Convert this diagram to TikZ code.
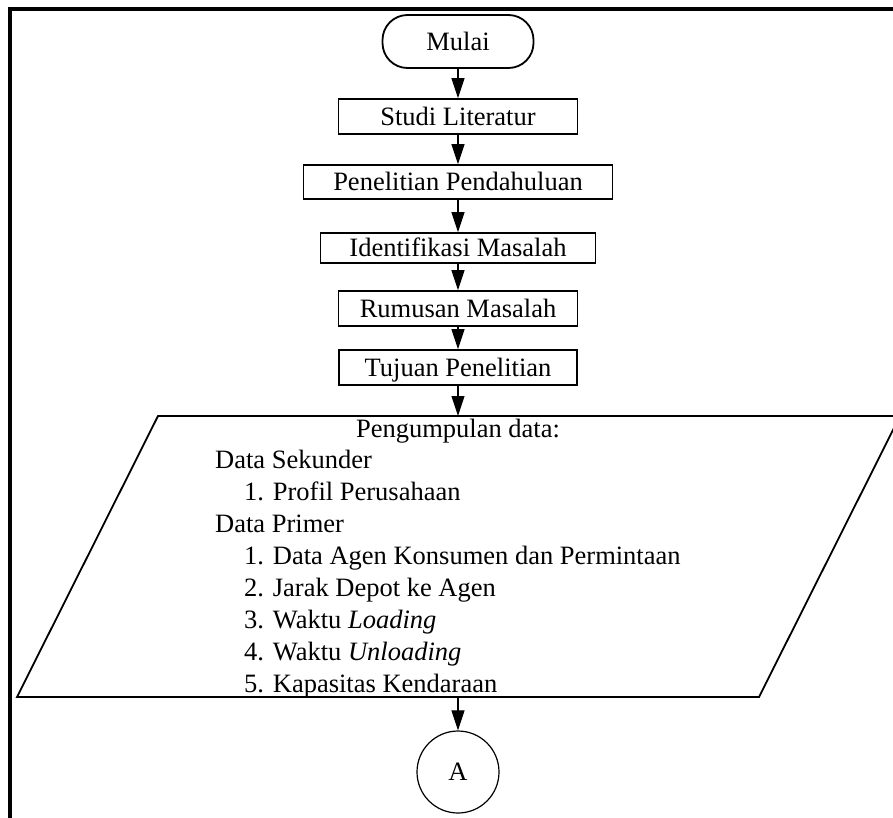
\documentclass[tikz,border=0pt]{standalone}
\usepackage{fontspec}
\setmainfont{Liberation Serif}
\usetikzlibrary{arrows.meta}
\begin{document}
\begin{tikzpicture}[x=1pt,y=-1pt,
  txt/.style={font=\fontsize{26.5}{31.9}\selectfont, inner sep=0pt},
  procbox/.style={txt, draw, line width=1.8pt, text height=17.5pt, text depth=0pt, minimum height=35pt},
  term/.style={procbox, rounded corners=25pt, minimum width=151pt, minimum height=53pt},
  conn/.style={line width=1.1pt, -{Triangle[length=20pt,width=13pt]}},
  listline/.style={txt, anchor=base west},
]
\useasboundingbox (0,0) rectangle (893,817);
\clip (0,0) rectangle (893,817);
\fill[white] (0,0) rectangle (893,817);
\draw[line width=3.3pt] (10,830) -- (10,9) -- (900,9);

\node[term] (mulai) at (458,41.5) {Mulai};
\node[procbox, minimum width=239pt] (studi) at (458,116.5) {Studi Literatur};
\node[procbox, minimum width=309pt, minimum height=34pt] (pen) at (458,182) {Penelitian Pendahuluan};
\node[procbox, minimum width=275pt, minimum height=30pt] (iden) at (458,248) {Identifikasi Masalah};
\node[procbox, minimum width=239pt] (rumus) at (458,308.5) {Rumusan Masalah};
\node[procbox, minimum width=238pt] (tujuan) at (458,367.5) {Tujuan Penelitian};

\draw[line width=1.8pt] (158,416) -- (900,416) -- (759,697) -- (17,697) -- cycle;
\coordinate (ptop) at (458,416);
\coordinate (pbot) at (458,697);

\node[txt, anchor=base] (pg) at (458,437) {Pengumpulan data:};
\node[listline] (ds) at (215,468) {Data Sekunder};
\node[listline] (ds1) at (244,500) {1. Profil Perusahaan};
\node[listline] (dp) at (215,532) {Data Primer};
\node[listline] (dp1) at (244,564) {1. Data Agen Konsumen dan Permintaan};
\node[listline] (dp2) at (244,596) {2. Jarak Depot ke Agen};
\node[listline] (dp3) at (244,628) {3. Waktu \textit{Loading}};
\node[listline] (dp4) at (244,660) {4. Waktu \textit{Unloading}};
\node[listline] (dp5) at (244,692) {5. Kapasitas Kendaraan};

\node[txt, draw, circle, line width=1.2pt, minimum size=82pt] (A) at (458,772) {A};

\draw[conn] (mulai) -- (studi);
\draw[conn] (studi) -- (pen);
\draw[conn] (pen) -- (iden);
\draw[conn] (iden) -- (rumus);
\draw[conn] (rumus) -- (tujuan);
\draw[conn] (tujuan) -- (ptop);
\draw[conn] (pbot) -- (A);
\end{tikzpicture}
\end{document}
